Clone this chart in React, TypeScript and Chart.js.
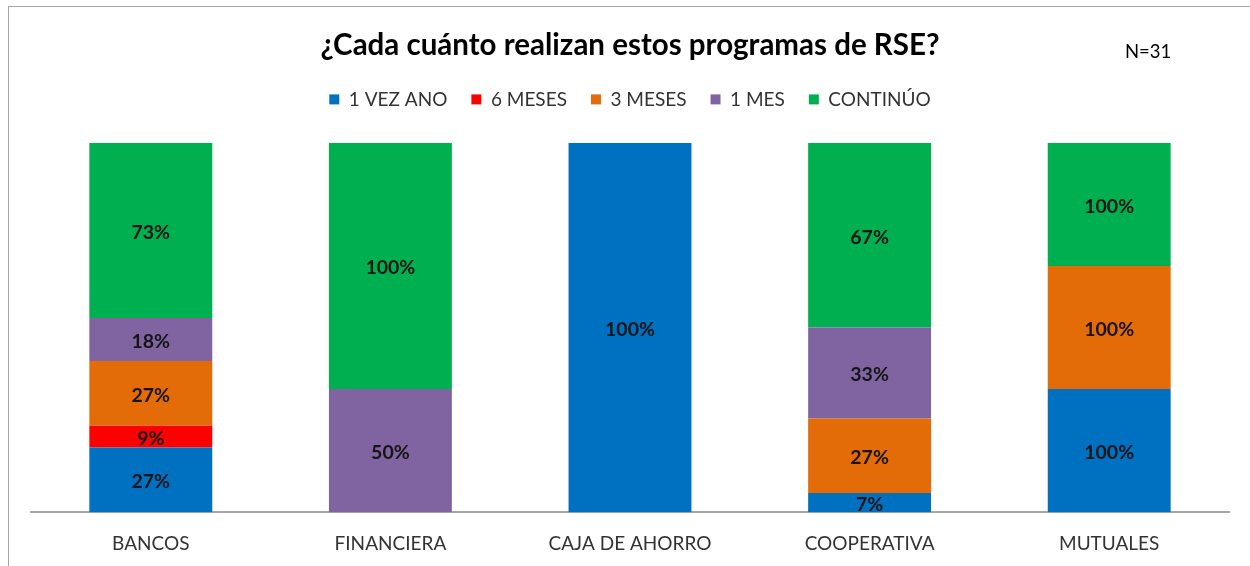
import React, { useEffect, useRef } from "react";
import { Chart, registerables } from "chart.js";

Chart.register(...registerables);

const categories = ["BANCOS", "FINANCIERA", "CAJA DE AHORRO", "COOPERATIVA", "MUTUALES"];
const seriesNames = ["1 VEZ ANO", "6 MESES", "3 MESES", "1 MES", "CONTINÚO"];
const unaVezAno = [27, 0, 100, 7, 100];
const seisMeses = [9, 0, 0, 0, 0];
const tresMeses = [27, 0, 0, 27, 100];
const unMes = [18, 50, 0, 33, 0];
const continuo = [73, 100, 0, 67, 100];
const colors = ["#0070C0", "#FF0000", "#E36C09", "#8064A2", "#00B050"];
const titleText = "¿Cada cuánto realizan estos programas de RSE?";
const noteText = "N=31";

const FONT = "Lato, 'Open Sans', sans-serif";

export default function App() {
  const ref = useRef<HTMLCanvasElement | null>(null);

  useEffect(() => {
    if (!ref.current) return;
    const raw = [unaVezAno, seisMeses, tresMeses, unMes, continuo];
    const totals = categories.map((_, i) => raw.reduce((s, arr) => s + arr[i], 0));
    const datasets = raw.map((arr, k) => ({
      label: seriesNames[k],
      data: arr.map((v, i) => (totals[i] ? (v / totals[i]) * 100 : 0)),
      rawValues: arr,
      backgroundColor: colors[k],
      borderWidth: 0,
      categoryPercentage: 1,
      barPercentage: 0.513,
    }));

    const legendSpace = {
      id: "legendSpace",
      beforeInit(chart: any) {
        const legend = chart.legend;
        if (!legend) return;
        const orig = legend.fit;
        legend.fit = function () {
          orig.call(this);
          this.height += 24;
        };
      },
    };

    const labelPlugin = {
      id: "barLabels",
      afterDatasetsDraw(chart: any) {
        const ctx = chart.ctx;
        ctx.save();
        ctx.font = `bold 19.5px ${FONT}`;
        ctx.fillStyle = "#151515";
        ctx.textAlign = "center";
        ctx.textBaseline = "middle";
        chart.data.datasets.forEach((ds: any, di: number) => {
          const meta = chart.getDatasetMeta(di);
          meta.data.forEach((bar: any, i: number) => {
            const v = ds.rawValues[i];
            if (!v) return;
            const y = (bar.y + bar.base) / 2;
            ctx.fillText(v + "%", bar.x, y + 2);
          });
        });
        ctx.restore();
      },
    };

    const notePlugin = {
      id: "note",
      afterDraw(chart: any) {
        const ctx = chart.ctx;
        ctx.save();
        ctx.font = `18.5px ${FONT}`;
        ctx.fillStyle = "#000";
        ctx.textAlign = "left";
        ctx.textBaseline = "middle";
        ctx.fillText(noteText, 1125, 52);
        ctx.restore();
      },
    };

    const chart = new Chart(ref.current, {
      type: "bar",
      data: { labels: categories, datasets: datasets as any },
      options: {
        animation: false,
        responsive: false,
        maintainAspectRatio: false,
        layout: { padding: { left: 31, right: 21, top: 0, bottom: -9 } },
        plugins: {
          title: {
            display: true,
            text: titleText,
            color: "#000",
            font: { family: FONT, size: 29.5, weight: "bold" },
            padding: { top: 27.5, bottom: 3 },
          },
          legend: {
            display: true,
            position: "top",
            labels: {
              boxWidth: 10,
              boxHeight: 10,
              padding: 24,
              color: "#333",
              font: { family: FONT, size: 19 },
            },
          },
          tooltip: { enabled: false },
        },
        scales: {
          x: {
            stacked: true,
            grid: { display: false, drawTicks: false },
            border: { display: true, color: "#a6a6a6", width: 2 },
            ticks: { color: "#333", font: { family: FONT, size: 19 }, padding: 20 },
          },
          y: {
            stacked: true,
            display: false,
            min: 0,
            max: 100,
          },
        },
      },
      plugins: [legendSpace, labelPlugin, notePlugin],
    });
    return () => chart.destroy();
  }, []);

  return (
    <div style={{ position: "absolute", left: 0, top: 0, width: 1250, height: 566, background: "#fff" }}>
      <div
        style={{
          position: "absolute",
          left: 8,
          top: 6,
          width: 1242,
          height: 560,
          borderLeft: "1.5px solid #a6a6a6",
          borderTop: "1.5px solid #a6a6a6",
          boxSizing: "border-box",
        }}
      />
      <canvas ref={ref} width={1250} height={566} style={{ position: "absolute", left: 0, top: 0 }} />
    </div>
  );
}
